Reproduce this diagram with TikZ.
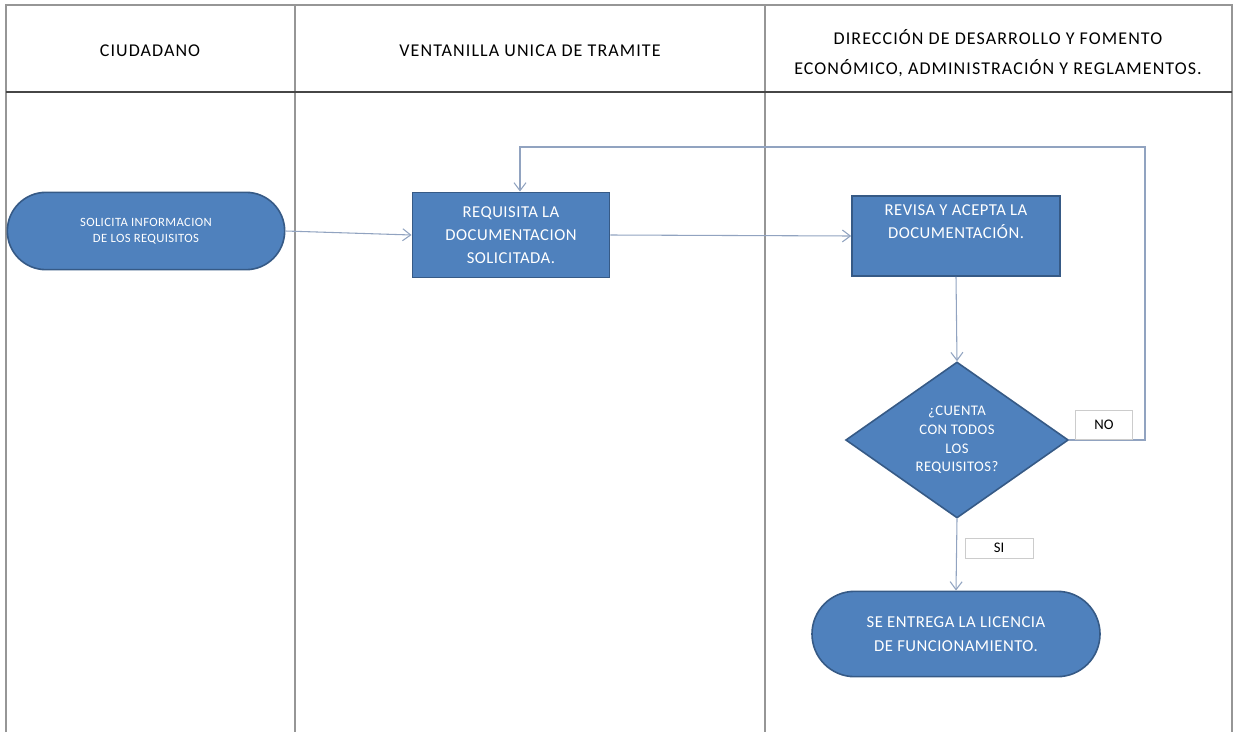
\documentclass[tikz,border=0pt]{standalone}
\usepackage{fontspec}
\setmainfont{Carlito}
\newfontfamily\headfont[LetterSpace=6]{Carlito}
\newfontfamily\shapefont[LetterSpace=3]{Carlito}
\usetikzlibrary{shapes.geometric,shapes.misc,arrows.meta}
\definecolor{boxblue}{RGB}{79,129,189}
\definecolor{boxedge}{RGB}{54,90,134}
\definecolor{flowline}{RGB}{145,163,192}
\definecolor{laneline}{RGB}{150,150,150}
\definecolor{headline}{RGB}{70,70,70}
\tikzset{
  stadium/.style={rounded rectangle, draw=boxedge, line width=1.2pt, fill=boxblue, text=white, align=center, inner sep=0pt},
  taskbox/.style={rectangle, draw=boxedge, line width=1.2pt, fill=boxblue, text=white, align=center, inner sep=0pt, font=\shapefont\fontsize{12.5}{17}\selectfont},
  decision/.style={diamond, draw=boxedge, line width=1.2pt, fill=boxblue, text=white, align=center, inner sep=0pt, font=\shapefont\fontsize{11}{14}\selectfont},
  answer/.style={rectangle, draw=black!20, fill=white, inner sep=0pt, font=\fontsize{11}{13}\selectfont},
  flow/.style={draw=flowline, line width=0.8pt, -{Straight Barb[length=6pt,width=9pt]}},
  lane/.style={draw=laneline, line width=1.5pt},
  lanetitle/.style={align=center, font=\headfont\fontsize{13.5}{23}\selectfont}
}
\begin{document}
\begin{tikzpicture}[x=0.75pt,y=0.75pt,yscale=-1,xscale=1]
\useasboundingbox (0,0) rectangle (1235,732);
\draw [lane] (6,732) -- (6,5) -- (1232,5) -- (1232,732) ;
\draw [lane] (295,5) -- (295,732) ;
\draw [lane] (765,5) -- (765,732) ;
\draw [draw=headline, line width=2.2pt] (6,92) -- (1232,92) ;
\node [lanetitle] (citizen) at (150,51) {CIUDADANO};
\node [lanetitle] (window) at (530,51) {VENTANILLA UNICA DE TRAMITE};
\node [lanetitle] (office) at (998,53) {DIRECCIÓN DE DESARROLLO Y FOMENTO\\ECONÓMICO, ADMINISTRACIÓN Y REGLAMENTOS.};

\node [stadium, minimum width=208pt, minimum height=58pt, font=\shapefont\fontsize{9.5}{12}\selectfont] (ask) at (146,231) {SOLICITA INFORMACION\\DE LOS REQUISITOS};
\node [taskbox, minimum width=148pt, minimum height=64pt] (req) at (511,235) {REQUISITA LA\\DOCUMENTACION\\SOLICITADA.};
\node [taskbox, minimum width=156pt, minimum height=60pt] (rev) at (956,236) {REVISA Y ACEPTA LA\\DOCUMENTACIÓN.\\\strut};
\node [decision, minimum width=167pt, minimum height=117pt] (chk) at (957,440) {¿CUENTA\\CON TODOS\\LOS\\REQUISITOS?};
\node [stadium, minimum width=216pt, minimum height=64pt, font=\shapefont\fontsize{12.5}{18}\selectfont] (lic) at (956,634) {SE ENTREGA LA LICENCIA\\DE FUNCIONAMIENTO.};

\coordinate (backup) at (1145,147);
\coordinate (backdown) at (520,147);

\draw [flow] (ask.east) -- (req.west) ;
\draw [flow] (req.east) -- (rev.west) ;
\draw [flow] (rev.south) -- (chk.north) ;
\draw [flow] (chk.south) -- (lic.north) ;
\draw [flow] (chk.east) -| (backup) -- (backdown) -- (backdown |- req.north) ;

\node [answer, minimum width=43pt, minimum height=22pt] (no) at (1104,425) {NO};
\node [answer, minimum width=51pt, minimum height=15pt] (yes) at (999,548) {SI};
\end{tikzpicture}
\end{document}
